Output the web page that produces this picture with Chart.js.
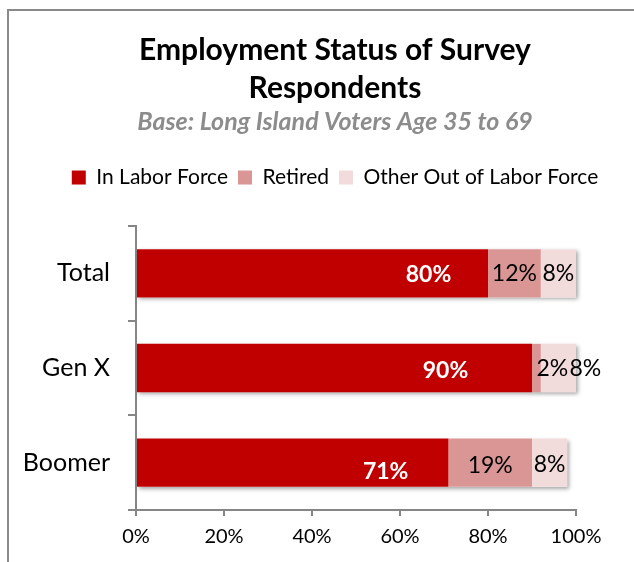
<!DOCTYPE html>
<html>
<head>
<meta charset="utf-8">
<title>Employment Status of Survey Respondents</title>
<script src="https://cdn.jsdelivr.net/npm/chart.js@4.4.1/dist/chart.umd.min.js"></script>
<style>
  html, body { margin: 0; padding: 0; background: #ffffff; overflow: hidden; }
  #chart-wrap { position: relative; width: 634px; height: 562px; overflow: hidden; }
</style>
</head>
<body>
<div id="chart-wrap"><canvas id="employment-chart" width="670" height="562"></canvas></div>
<script>
// Survey breakdown by generation (percent of respondents)
const groups = ['Total', 'Gen X', 'Boomer'];
const inLaborForce = [80, 90, 71];
const retired = [12, 2, 19];
const otherOutOfLaborForce = [8, 8, 8];
const seriesNames = ['In Labor Force', 'Retired', 'Other Out of Labor Force'];
const axisTicks = [0, 20, 40, 60, 80, 100];

const FONT = 'Lato, "Open Sans", sans-serif';
const colors = ['#C00000', '#D99694', '#F2DCDB'];

// value labels are hand placed: [dx, dy] from the middle of each segment
const labelNudge = [
    [[116, 1], [111, 3], [93, 9]],
    [[0, 0], [16, 1], [0, 3]],
    [[0, 0], [27, 1], [0, 2]]
];

// soft drop shadow behind each full stacked bar
const barShadow = {
    id: 'barShadow',
    beforeDatasetsDraw(chart) {
        const ctx = chart.ctx;
        const metas = chart.data.datasets.map((_, i) => chart.getDatasetMeta(i));
        ctx.save();
        ctx.shadowColor = 'rgba(0, 0, 0, 0.35)';
        ctx.shadowBlur = 4;
        ctx.shadowOffsetX = 2;
        ctx.shadowOffsetY = 2;
        ctx.fillStyle = '#ffffff';
        groups.forEach((_, i) => {
            const first = metas[0].data[i];
            const last = metas[metas.length - 1].data[i];
            const h = first.height;
            ctx.fillRect(first.base, first.y - h / 2, last.x - first.base, h);
        });
        ctx.restore();
    }
};

const valueLabels = {
    id: 'valueLabels',
    afterDatasetsDraw(chart) {
        const ctx = chart.ctx;
        ctx.save();
        ctx.textAlign = 'center';
        ctx.textBaseline = 'middle';
        chart.data.datasets.forEach((ds, di) => {
            const meta = chart.getDatasetMeta(di);
            ctx.font = di === 0 ? `bold 23px ${FONT}` : `23px ${FONT}`;
            ctx.fillStyle = di === 0 ? '#ffffff' : '#000000';
            meta.data.forEach((bar, i) => {
                const [dx, dy] = labelNudge[di][i];
                const mid = (bar.x + bar.base) / 2;
                ctx.fillText(ds.data[i] + '%', mid + dx, bar.y + dy);
            });
        });
        ctx.restore();
    }
};

// outer chart frame, cut off at the right and bottom
const chartFrame = {
    id: 'chartFrame',
    beforeDraw(chart) {
        const ctx = chart.ctx;
        ctx.save();
        ctx.strokeStyle = '#8a8a8a';
        ctx.lineWidth = 2;
        ctx.strokeRect(8, 10, 700, 700);
        ctx.restore();
    }
};

// extra room between the legend and the bars
const legendGap = {
    id: 'legendGap',
    beforeInit(chart) {
        const fit = chart.legend.fit;
        chart.legend.fit = function () {
            fit.call(this);
            this.height += 28;
        };
    }
};

const values = [inLaborForce, retired, otherOutOfLaborForce];

new Chart(document.getElementById('employment-chart'), {
    type: 'bar',
    data: {
        labels: groups,
        datasets: seriesNames.map((name, i) => ({
            label: name,
            data: values[i],
            backgroundColor: colors[i],
            borderWidth: 0,
            categoryPercentage: 1,
            barPercentage: 0.51,
            clip: false
        }))
    },
    options: {
        responsive: false,
        animation: false,
        indexAxis: 'y',
        layout: { padding: 0 },
        scales: {
            x: {
                stacked: true,
                min: 0,
                max: 100,
                afterBuildTicks(scale) {
                    scale.ticks = axisTicks.map(v => ({ value: v }));
                },
                ticks: {
                    callback: v => v + '%',
                    color: '#000000',
                    font: { family: FONT, size: 20 },
                    padding: 9,
                    maxRotation: 0
                },
                grid: { drawOnChartArea: false, tickLength: 6, color: '#868686', lineWidth: 2 },
                border: { color: '#868686', width: 2 },
                afterFit(scale) {
                    scale.height = 52;
                    scale.paddingRight = 94;
                }
            },
            y: {
                stacked: true,
                ticks: {
                    color: '#000000',
                    font: { family: FONT, size: 25 },
                    padding: 18
                },
                grid: { drawOnChartArea: false, tickLength: 8, color: '#868686', lineWidth: 2, offset: true },
                border: { color: '#868686', width: 2 },
                afterFit(scale) {
                    scale.width = 136;
                }
            }
        },
        plugins: {
            title: {
                display: true,
                text: ['Employment Status of Survey', 'Respondents'],
                color: '#000000',
                font: { family: FONT, size: 30, weight: 'bold', lineHeight: 1.267 },
                padding: { top: 31, bottom: 0 }
            },
            subtitle: {
                display: true,
                text: 'Base: Long Island Voters Age 35 to 69',
                color: '#8c8c8c',
                font: { family: FONT, size: 25, weight: 'bold', style: 'italic', lineHeight: 1.2 },
                padding: { top: 0, bottom: 20 }
            },
            legend: {
                display: true,
                position: 'top',
                labels: {
                    color: '#000000',
                    font: { family: FONT, size: 21 },
                    boxWidth: 14,
                    boxHeight: 14,
                    padding: 10
                }
            },
            tooltip: { enabled: false }
        }
    },
    plugins: [chartFrame, legendGap, barShadow, valueLabels]
});
</script>
</body>
</html>
